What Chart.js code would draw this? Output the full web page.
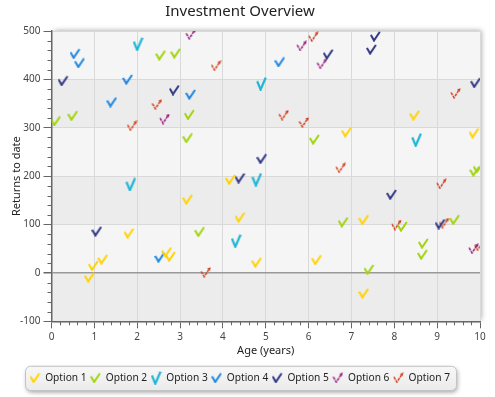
<!DOCTYPE html>
<html>
<head>
<meta charset="utf-8">
<style>
  html, body { margin: 0; padding: 0; background: #fff; }
</style>
</head>
<body>
<canvas id="chart" width="495" height="397"></canvas>
<script src="https://cdn.jsdelivr.net/npm/chart.js@4.4.0/dist/chart.umd.min.js"></script>
<script>
// series data (age in years, returns to date)
const seriesNames = ["Option 1", "Option 2", "Option 3", "Option 4", "Option 5", "Option 6", "Option 7"];
const seriesColors = ["#ffd200", "#a0d40c", "#1fb6d6", "#1c86e0", "#2f3682", "#951478", "#d23a18"];
const seriesGlyphs = ["check", "check", "tall", "check", "check", "thin", "thin"];

const option1Age = [0.89, 0.98, 1.20, 1.81, 2.69, 2.78, 3.18, 4.18, 4.40, 4.79, 6.19, 6.89, 7.29, 7.29, 8.48, 9.86];
const option1Ret = [-9, 15, 28, 82, 43, 34, 152, 193, 115, 22, 27, 291, 110, -42, 326, 289];
const option2Age = [0.10, 0.50, 2.55, 2.90, 3.18, 3.22, 3.46, 6.14, 6.81, 7.41, 8.19, 8.66, 8.68, 9.41, 9.88, 9.96];
const option2Ret = [314, 325, 450, 454, 279, 327, 85, 276, 105, 7, 96, 38, 61, 110, 210, 217];
const option3Age = [1.85, 2.02, 4.31, 4.79, 4.90, 8.52];
const option3Ret = [183, 473, 66, 193, 391, 275];
const option4Age = [0.55, 0.66, 1.41, 1.78, 2.53, 3.25, 5.33];
const option4Ret = [453, 434, 353, 400, 32, 369, 436];
const option5Age = [0.27, 1.06, 2.87, 4.40, 4.91, 6.46, 7.47, 7.56, 7.94, 9.07, 9.90];
const option5Ret = [397, 86, 378, 196, 236, 452, 462, 489, 162, 101, 393];
const option6Age = [2.64, 3.25, 5.84, 6.31, 9.85];
const option6Ret = [318, 493, 469, 432, 50];
const option7Age = [1.88, 2.46, 3.60, 3.84, 5.42, 5.89, 6.11, 6.75, 8.05, 9.10, 9.16, 9.43, 9.98];
const option7Ret = [304, 348, 1, 428, 326, 311, 488, 217, 99, 184, 103, 371, 56];

const allAges = [option1Age, option2Age, option3Age, option4Age, option5Age, option6Age, option7Age];
const allRets = [option1Ret, option2Ret, option3Ret, option4Ret, option5Ret, option6Ret, option7Ret];

const font = "'Noto Sans', 'DejaVu Sans', sans-serif";

// little check mark images used as point style
function makeCheck(color, kind) {
  const c = document.createElement("canvas");
  const w = 11, h = kind === "tall" ? 14 : 11;
  c.width = w;
  c.height = h;
  const g = c.getContext("2d");
  g.strokeStyle = color;
  g.fillStyle = color;
  if (kind === "tall") {
    g.lineWidth = 2.2;
    g.beginPath(); g.moveTo(1.2, 4.5); g.lineTo(4.6, 12.8); g.lineTo(9.8, 0.8); g.stroke();
  } else if (kind === "thin") {
    g.lineWidth = 1.5;
    g.setLineDash([3, 1]);
    g.beginPath(); g.moveTo(1, 4.5); g.lineTo(4, 9.8); g.lineTo(8.6, 2.4); g.stroke();
    g.setLineDash([]);
    g.beginPath(); g.moveTo(10.6, 0.2); g.lineTo(7.0, 1.4); g.lineTo(9.7, 3.8); g.closePath(); g.fill();
  } else {
    g.lineWidth = 2;
    g.beginPath(); g.moveTo(0.8, 4); g.lineTo(4, 9.6); g.lineTo(9.8, 1); g.stroke();
  }
  return c;
}

function points(ages, rets) {
  return ages.map((a, i) => ({ x: a, y: rets[i] }));
}

const datasets = seriesNames.map((name, i) => ({
  label: name,
  data: points(allAges[i], allRets[i]),
  pointStyle: makeCheck(seriesColors[i], seriesGlyphs[i]),
  borderColor: seriesColors[i],
  backgroundColor: seriesColors[i],
  showLine: false
}));

// banded plot background with shadow, plus the legend frame
const plotBackground = {
  id: "plotBackground",
  beforeDraw(chart) {
    const { ctx, chartArea: a, scales: { y } } = chart;
    ctx.save();
    ctx.shadowColor = "rgba(0,0,0,0.35)";
    ctx.shadowBlur = 5;
    ctx.shadowOffsetX = 2;
    ctx.shadowOffsetY = -1;
    ctx.fillStyle = "#f5f5f5";
    ctx.fillRect(a.left, a.top, a.right - a.left, a.bottom - a.top);
    ctx.restore();
    ctx.save();
    ctx.fillStyle = "#ececec";
    for (let v = 400; v > y.min; v -= 200) {
      const t = y.getPixelForValue(v), b = y.getPixelForValue(v - 100);
      ctx.fillRect(a.left, t, a.right - a.left, b - t);
    }
    ctx.restore();

    const boxes = chart.legend.legendHitBoxes;
    if (boxes && boxes.length) {
      const l = Math.min(...boxes.map(b => b.left)) - 5;
      const r = Math.max(...boxes.map(b => b.left + b.width)) + 6;
      const t = Math.min(...boxes.map(b => b.top)) - 7;
      const btm = Math.max(...boxes.map(b => b.top + b.height)) + 7;
      ctx.save();
      ctx.shadowColor = "rgba(0,0,0,0.35)";
      ctx.shadowBlur = 4;
      ctx.shadowOffsetX = 1;
      ctx.shadowOffsetY = 2;
      const grad = ctx.createLinearGradient(0, t, 0, btm);
      grad.addColorStop(0, "#f8f8f8");
      grad.addColorStop(1, "#ebebeb");
      ctx.fillStyle = grad;
      ctx.beginPath();
      ctx.roundRect(l + 0.5, t + 0.5, r - l, btm - t, 5);
      ctx.fill();
      ctx.shadowColor = "transparent";
      ctx.strokeStyle = "#c4c4c4";
      ctx.lineWidth = 1;
      ctx.stroke();
      ctx.restore();
    }
  }
};

// minor tick marks on both axes
const minorTicks = {
  id: "minorTicks",
  afterDraw(chart) {
    const { ctx, chartArea: a, scales: { x, y } } = chart;
    ctx.save();
    ctx.strokeStyle = "#666";
    ctx.lineWidth = 1;
    ctx.beginPath();
    for (let v = -100; v <= 500; v += 20) {
      if (v % 100 === 0) continue;
      const py = Math.round(y.getPixelForValue(v)) + 0.5;
      ctx.moveTo(a.left - 4, py);
      ctx.lineTo(a.left, py);
    }
    for (let i = 0; i <= 50; i++) {
      if (i % 5 === 0) continue;
      const px = Math.round(x.getPixelForValue(i / 5)) + 0.5;
      ctx.moveTo(px, a.bottom);
      ctx.lineTo(px, a.bottom + 4);
    }
    ctx.stroke();
    ctx.restore();
  }
};

new Chart(document.getElementById("chart"), {
  type: "scatter",
  data: { datasets },
  plugins: [plotBackground, minorTicks],
  options: {
    responsive: false,
    animation: false,
    events: [],
    layout: { padding: { left: 0, right: 15, top: 0, bottom: 4 } },
    plugins: {
      title: {
        display: true,
        text: "Investment Overview",
        color: "#222",
        font: { family: font, size: 15, weight: "normal" },
        padding: { top: 3, bottom: 10 }
      },
      legend: {
        position: "bottom",
        labels: {
          usePointStyle: true,
          pointStyleWidth: 10,
          boxHeight: 10,
          padding: 4,
          color: "#222",
          font: { family: font, size: 10.2 }
        }
      },
      tooltip: { enabled: false }
    },
    scales: {
      x: {
        type: "linear",
        min: 0,
        max: 10,
        ticks: { stepSize: 1, padding: 3, color: "#444", font: { family: font, size: 10 } },
        grid: { color: "#d9d9d9", tickColor: "#666", tickLength: 7 },
        border: { color: "#666", width: 1.5 },
        title: {
          display: true,
          text: "Age (years)",
          color: "#222",
          font: { family: font, size: 11 },
          padding: { top: 0, bottom: 11 }
        },
        afterFit: s => { s.height = 47.5; }
      },
      y: {
        min: -100,
        max: 500,
        ticks: { stepSize: 100, padding: 3, color: "#444", font: { family: font, size: 10 } },
        grid: {
          color: c => (c.tick && c.tick.value === 0 ? "#999" : "#d9d9d9"),
          lineWidth: c => (c.tick && c.tick.value === 0 ? 1.5 : 1),
          tickColor: "#666",
          tickLength: 8
        },
        border: { color: "#666", width: 1.5 },
        title: {
          display: true,
          text: "Returns to date",
          color: "#222",
          font: { family: font, size: 11 },
          padding: { top: 10, bottom: 0 }
        },
        afterFit: s => { s.width = 51.5; }
      }
    }
  }
});
</script>
</body>
</html>
